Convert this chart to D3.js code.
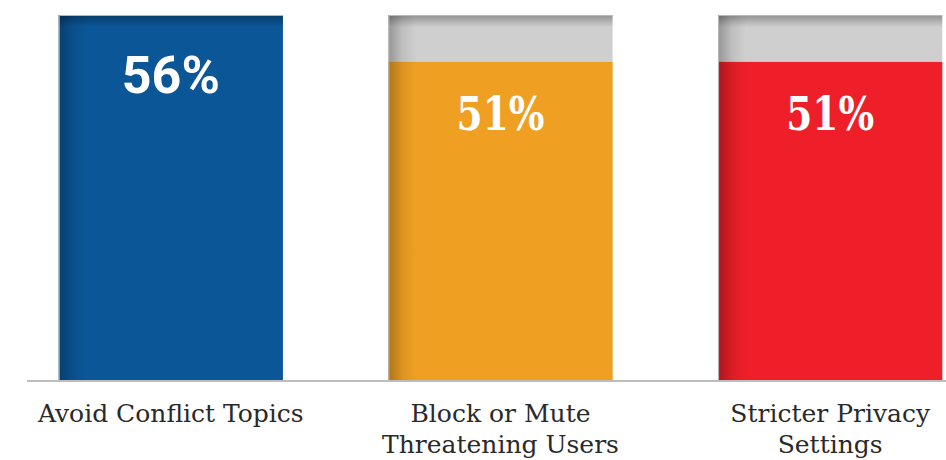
<!DOCTYPE html>
<html><head><meta charset="utf-8">
<script src="https://cdn.jsdelivr.net/npm/d3@7"></script>
<style>html,body{margin:0;padding:0;background:#fff;}svg{display:block;}</style>
</head><body>
<svg id="chart" width="946" height="460"></svg>
<script>
const categories = ["Avoid Conflict Topics", "Block or Mute\nThreatening Users", "Stricter Privacy\nSettings"];
const values = [56, 51, 51];
const valueLabels = ["56%", "51%", "51%"];
const colors = ["#0a5697", "#efa023", "#ee1f29"];
const trackMax = 56;

const svg = d3.select("#chart");
const W = 946, H = 460;
const x = d3.scaleBand().domain(categories).range([6, 995]).paddingInner(0.32).paddingOuter(0.16);
const y = d3.scaleLinear().domain([17, 56]).range([381, 15]);

const defs = svg.append("defs");
const lg = defs.append("linearGradient").attr("id","leftShade").attr("x1",0).attr("x2",1).attr("y1",0).attr("y2",0);
lg.append("stop").attr("offset",0).attr("stop-color","#000").attr("stop-opacity",0.28);
lg.append("stop").attr("offset",0.5).attr("stop-color","#000").attr("stop-opacity",0.08);
lg.append("stop").attr("offset",1).attr("stop-color","#000").attr("stop-opacity",0);
const tg = defs.append("linearGradient").attr("id","topShade").attr("x1",0).attr("x2",0).attr("y1",0).attr("y2",1);
tg.append("stop").attr("offset",0).attr("stop-color","#000").attr("stop-opacity",0.3);
tg.append("stop").attr("offset",1).attr("stop-color","#000").attr("stop-opacity",0);

const g = svg.append("g");
const bw = x.bandwidth();
categories.forEach((c, i) => {
  const x0 = x(c);
  g.append("rect").attr("x", x0).attr("y", y(trackMax)).attr("width", bw).attr("height", y.range()[0] - y(trackMax)).attr("fill", "#d0cfd0");
  g.append("rect").attr("x", x0).attr("y", y(values[i])).attr("width", bw).attr("height", y.range()[0] - y(values[i])).attr("fill", colors[i]);
  g.append("rect").attr("x", x0).attr("y", y(trackMax)).attr("width", bw).attr("height", 12).attr("fill", "url(#topShade)");
  g.append("rect").attr("x", x0).attr("y", y(trackMax)).attr("width", 28).attr("height", y.range()[0] - y(trackMax)).attr("fill", "url(#leftShade)");
  g.append("path").attr("d", `M${x0+0.5},${y.range()[0]} V${y(trackMax)+0.5} H${x0+bw}`).attr("fill","none").attr("stroke","#b8b8b8").attr("stroke-width",1);
  const t = g.append("text").attr("x", x0 + bw/2).attr("y", y(values[i]) + (i === 0 ? 78 : 68))
    .attr("text-anchor","middle").attr("fill","#fff").attr("font-weight","bold")
    .text(valueLabels[i]);
  if (i === 0) t.attr("font-family","Roboto, sans-serif").attr("font-size", 52);
  else t.attr("font-family","'DejaVu Serif', serif").attr("font-size", 46).attr("textLength", 88).attr("lengthAdjust","spacingAndGlyphs");
  const lines = c.split("\n");
  const lt = g.append("text").attr("text-anchor","middle").attr("font-family","'DejaVu Serif', serif")
    .attr("font-size", 25).attr("fill","#2a2a2a").attr("font-weight", 300);
  lines.forEach((ln, k) => {
    lt.append("tspan").attr("x", x0 + bw/2).attr("y", 422 + k*31).text(ln);
  });
});

svg.append("line").attr("x1", 27).attr("x2", W).attr("y1", 381).attr("y2", 381).attr("stroke", "#bdbdbd").attr("stroke-width", 2);
</script>
</body></html>
